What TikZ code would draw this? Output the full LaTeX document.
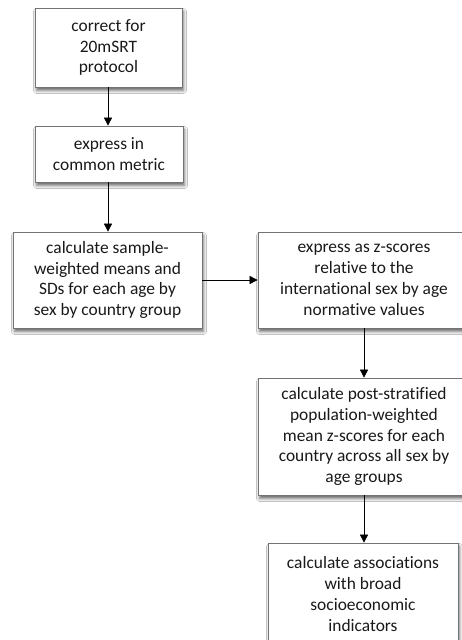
\documentclass[tikz,border=0pt]{standalone}
\usepackage{fontspec}
\setmainfont{Carlito}[Ligatures=CommonOff]
\usetikzlibrary{arrows.meta,shadows.blur}
\definecolor{boxline}{RGB}{115,115,115}
\definecolor{boxtext}{RGB}{25,25,25}
\tikzset{
  flowbox/.style={draw=boxline, line width=0.7pt, fill=white, align=center,
    inner sep=0pt, text=boxtext, font=\fontsize{17.4}{20.8}\selectfont,
    blur shadow={shadow xshift=1.5pt, shadow yshift=-3.5pt, shadow blur radius=3pt, shadow opacity=60}},
  flowarrow/.style={draw=black, line width=0.6pt, -{Triangle[length=8pt,width=8pt]}}
}
\begin{document}
\begin{tikzpicture}[x=1pt,y=-1pt]
\useasboundingbox (0,0) rectangle (462,640);
\clip (0,0) rectangle (462,640);
\fill[white] (0,0) rectangle (462,640);
\node[flowbox, minimum width=147pt, minimum height=79pt] (b1) at (108.5,47.5)
  {correct for\\20mSRT\\protocol};
\node[flowbox, minimum width=148pt, minimum height=56pt] (b2) at (109,154)
  {express in\\common metric};
\node[flowbox, minimum width=189pt, minimum height=96pt] (b3) at (107.5,280)
  {calculate sample-\\weighted means and\\SDs for each age by\\sex by country group};
\node[flowbox, minimum width=212pt, minimum height=96pt] (b4) at (364,280)
  {express as z-scores\\relative to the\\international sex by age\\normative values};
\node[flowbox, minimum width=212pt, minimum height=117pt] (b5) at (364,436.5)
  {calculate post-stratified\\population-weighted\\mean z-scores for each\\country across all sex by\\age groups};
\node[flowbox, minimum width=190pt, minimum height=102pt] (b6) at (363,594)
  {calculate associations\\with broad\\socioeconomic\\indicators};
\draw[flowarrow] (b1.south -| 108,0) -- (b2.north -| 108,0);
\draw[flowarrow] (b2.south -| 108,0) -- (b3.north -| 108,0);
\draw[flowarrow] (b3.east) -- (b4.west);
\draw[flowarrow] (b4.south -| 364,0) -- (b5.north -| 364,0);
\draw[flowarrow] (b5.south -| 364,0) -- (b6.north -| 364,0);
\end{tikzpicture}
\end{document}
